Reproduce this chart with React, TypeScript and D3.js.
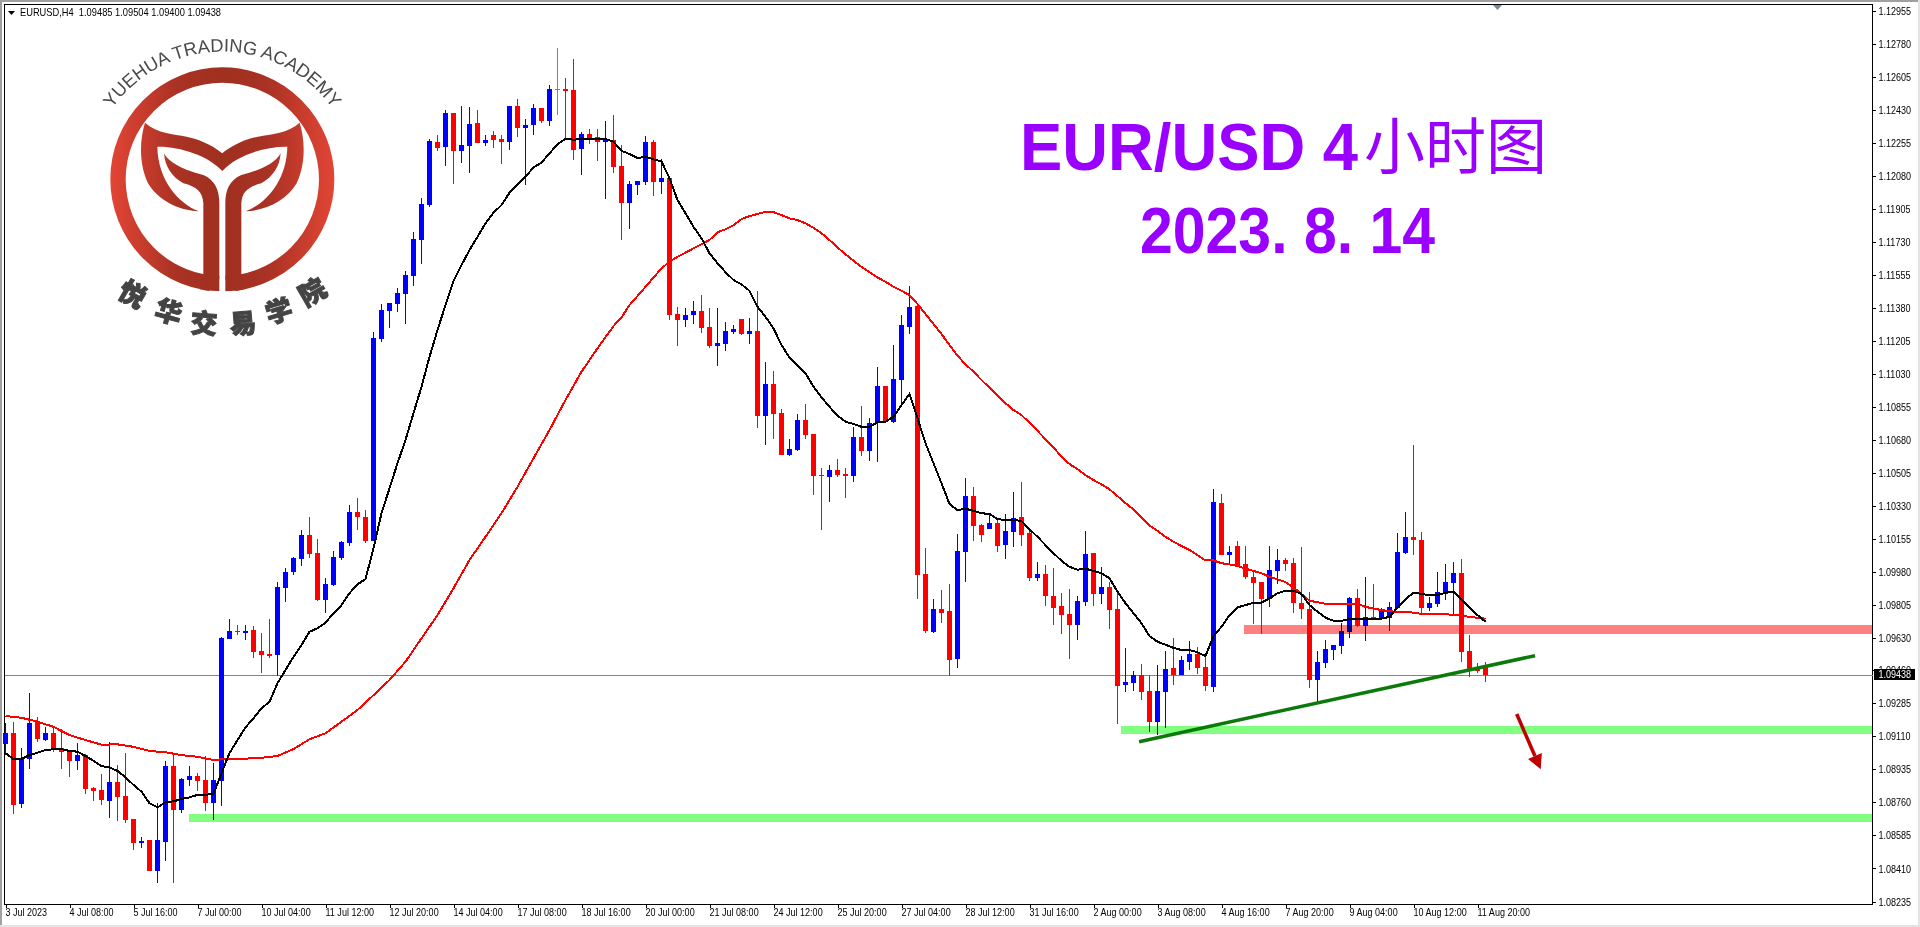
import React, { useEffect, useRef } from 'react';
import * as d3 from 'd3';

// OHLC, one value per bar
const opens = [
  1.0907, 1.09127, 1.08752, 1.0899, 1.09192, 1.09091, 1.09128, 1.09049, 1.09027, 1.0898, 1.09011, 1.08837, 1.08826, 1.08768, 1.08868, 1.08794,
  1.08672, 1.08545, 1.08561, 1.08397, 1.0855, 1.08953, 1.0872, 1.08879, 1.089, 1.08879, 1.08757, 1.08874, 1.09626, 1.09669, 1.09658, 1.09674,
  1.09563, 1.09547, 1.09541, 1.09897, 1.09981, 1.1005, 1.10177, 1.10082, 1.09833, 1.09913, 1.10056, 1.10135, 1.10299, 1.10273, 1.10146, 1.11216,
  1.11365, 1.11402, 1.11455, 1.1155, 1.11741, 1.11926, 1.1226, 1.12234, 1.12414, 1.12213, 1.12239, 1.12361, 1.12255, 1.12297, 1.12276, 1.1226,
  1.12451, 1.12335, 1.1235, 1.12441, 1.12372, 1.1254, 1.12541, 1.12536, 1.12223, 1.12303, 1.12287, 1.1226, 1.12271, 1.12133, 1.11937, 1.12032,
  1.12048, 1.1226, 1.12048, 1.1207, 1.11349, 1.11317, 1.11343, 1.11365, 1.1128, 1.11179, 1.1119, 1.11253, 1.11322, 1.11243, 1.11259, 1.10808,
  1.10978, 1.10824, 1.10601, 1.10628, 1.10787, 1.10713, 1.10494, 1.10485, 1.10522, 1.10501, 1.1049, 1.10697, 1.10623, 1.10771, 1.10967, 1.10776,
  1.10999, 1.1128, 1.11391, 1.09971, 1.09663, 1.09785, 1.09775, 1.0952, 1.10087, 1.10384, 1.1023, 1.10209, 1.10241, 1.10124, 1.10193, 1.10273,
  1.10188, 1.0995, 1.09971, 1.09854, 1.09801, 1.09759, 1.097, 1.09822, 1.10082, 1.09865, 1.09902, 1.09785, 1.09382, 1.09393, 1.09435, 1.09351,
  1.09186, 1.09345, 1.09473, 1.09435, 1.09504, 1.09547, 1.09478, 1.09372, 1.10347, 1.10071, 1.10119, 1.10024, 1.09955, 1.09928, 1.09838, 1.09987,
  1.10045, 1.10029, 1.09817, 1.09785, 1.09409, 1.09499, 1.09568, 1.09589, 1.09663, 1.09844, 1.09695, 1.09743, 1.09732, 1.09738, 1.09791, 1.10082,
  1.10167, 1.10151, 1.09791, 1.09812, 1.09865, 1.09923, 1.09976, 1.09563, 1.09467, 1.09485,
];
const highs = [
  1.09181, 1.09186, 1.09049, 1.0934, 1.09213, 1.0916, 1.09165, 1.09149, 1.09038, 1.09075, 1.09017, 1.08842, 1.08911, 1.0908, 1.08958, 1.09022,
  1.08672, 1.08577, 1.08561, 1.08757, 1.0898, 1.09011, 1.0889, 1.08953, 1.08916, 1.09006, 1.08969, 1.09637, 1.09732, 1.097, 1.097, 1.09695,
  1.09658, 1.09732, 1.09928, 1.10003, 1.10061, 1.10204, 1.10273, 1.10156, 1.0995, 1.10093, 1.10146, 1.10336, 1.10374, 1.1031, 1.11253, 1.11402,
  1.11407, 1.11487, 1.11577, 1.11783, 1.11964, 1.12276, 1.12297, 1.1243, 1.12414, 1.12451, 1.12446, 1.1243, 1.12297, 1.12319, 1.12297, 1.12451,
  1.12488, 1.12382, 1.12462, 1.12441, 1.12562, 1.12759, 1.126, 1.127, 1.12313, 1.12329, 1.12329, 1.12372, 1.12403, 1.12244, 1.12054, 1.12054,
  1.12292, 1.12271, 1.1217, 1.1207, 1.11386, 1.11381, 1.11418, 1.11449, 1.11381, 1.11381, 1.11306, 1.1129, 1.11322, 1.11328, 1.11471, 1.11094,
  1.11047, 1.10845, 1.10686, 1.10819, 1.10872, 1.10713, 1.10533, 1.10548, 1.1058, 1.10533, 1.1075, 1.10861, 1.10798, 1.11068, 1.10967, 1.11184,
  1.11343, 1.11497, 1.11391, 1.10109, 1.09838, 1.09886, 1.09918, 1.10183, 1.1048, 1.10432, 1.10236, 1.10283, 1.10262, 1.10289, 1.10405, 1.10458,
  1.10215, 1.10034, 1.10018, 1.10003, 1.0987, 1.09891, 1.09854, 1.10199, 1.10082, 1.10008, 1.09928, 1.09875, 1.09579, 1.09457, 1.09494, 1.09435,
  1.09488, 1.09563, 1.09632, 1.09536, 1.09616, 1.09584, 1.09536, 1.10421, 1.10395, 1.10119, 1.10146, 1.10119, 1.09981, 1.09928, 1.10119, 1.10103,
  1.10056, 1.10056, 1.10114, 1.09875, 1.09563, 1.09621, 1.09594, 1.09711, 1.09849, 1.09891, 1.09955, 1.09918, 1.09791, 1.09822, 1.10188, 1.10299,
  1.10654, 1.10193, 1.09849, 1.09981, 1.10024, 1.10034, 1.1005, 1.09647, 1.09499, 1.09504,
];
const lows = [
  1.09011, 1.08699, 1.08731, 1.08937, 1.0908, 1.09086, 1.09027, 1.08937, 1.08895, 1.08932, 1.08805, 1.08768, 1.08746, 1.08678, 1.08662, 1.08651,
  1.08508, 1.08519, 1.08397, 1.08333, 1.0845, 1.08333, 1.08704, 1.08847, 1.08821, 1.08715, 1.08667, 1.08741, 1.09626, 1.09647, 1.09621, 1.09526,
  1.09446, 1.09526, 1.0943, 1.09822, 1.09965, 1.10013, 1.10056, 1.09828, 1.09764, 1.09907, 1.10045, 1.10119, 1.10204, 1.10135, 1.10146, 1.112,
  1.11275, 1.11359, 1.11296, 1.11497, 1.11614, 1.11916, 1.12213, 1.12133, 1.12038, 1.12149, 1.12096, 1.12255, 1.12239, 1.12229, 1.12144, 1.12218,
  1.12287, 1.12032, 1.12297, 1.12361, 1.12345, 1.12403, 1.12271, 1.12165, 1.12085, 1.1225, 1.1216, 1.11958, 1.12096, 1.11741, 1.11799, 1.1198,
  1.12032, 1.11974, 1.11985, 1.11317, 1.11179, 1.1128, 1.11296, 1.11248, 1.11169, 1.11073, 1.11153, 1.11243, 1.11237, 1.1119, 1.10745, 1.10654,
  1.10686, 1.10601, 1.10596, 1.10623, 1.10686, 1.10389, 1.10204, 1.10352, 1.10485, 1.10374, 1.10458, 1.10596, 1.1057, 1.10564, 1.10782, 1.10771,
  1.10877, 1.11243, 1.09838, 1.09658, 1.09658, 1.09711, 1.0943, 1.09473, 1.09928, 1.10146, 1.1014, 1.10209, 1.10087, 1.1005, 1.10114, 1.10119,
  1.09934, 1.09934, 1.09801, 1.097, 1.09653, 1.0952, 1.09621, 1.09801, 1.09801, 1.09812, 1.09679, 1.09176, 1.09345, 1.09351, 1.09303, 1.09133,
  1.09117, 1.09155, 1.09382, 1.09435, 1.09462, 1.09441, 1.09351, 1.09345, 1.10071, 1.10029, 1.10008, 1.09944, 1.09706, 1.09653, 1.09796, 1.09918,
  1.09987, 1.09764, 1.09732, 1.09367, 1.09292, 1.09473, 1.09515, 1.09547, 1.09632, 1.0969, 1.09616, 1.09732, 1.09732, 1.09669, 1.09791, 1.10077,
  1.10071, 1.09759, 1.09775, 1.09796, 1.09833, 1.09759, 1.09504, 1.09425, 1.09446, 1.094,
];
const closes = [
  1.09128, 1.08748, 1.0899, 1.09181, 1.09096, 1.09128, 1.09043, 1.09027, 1.0898, 1.09011, 1.08831, 1.08821, 1.08773, 1.08868, 1.08789, 1.08667,
  1.08545, 1.08556, 1.08397, 1.08561, 1.08953, 1.0872, 1.08884, 1.089, 1.08874, 1.08757, 1.08879, 1.09632, 1.09669, 1.09663, 1.09669, 1.09557,
  1.09541, 1.09536, 1.09902, 1.09981, 1.10056, 1.10177, 1.10077, 1.09833, 1.09918, 1.10061, 1.1014, 1.10299, 1.10273, 1.10146, 1.11222, 1.1137,
  1.11407, 1.1146, 1.11555, 1.11746, 1.11932, 1.12266, 1.12229, 1.12414, 1.12213, 1.12244, 1.12356, 1.12255, 1.12271, 1.12271, 1.1226, 1.12451,
  1.12335, 1.1235, 1.12441, 1.12372, 1.12541, 1.1254, 1.12531, 1.12218, 1.12303, 1.12276, 1.1226, 1.12276, 1.12128, 1.11937, 1.12038, 1.12054,
  1.1226, 1.12048, 1.1207, 1.11343, 1.11317, 1.11343, 1.11365, 1.11275, 1.11179, 1.11195, 1.11259, 1.11269, 1.11243, 1.11259, 1.10808, 1.10978,
  1.10819, 1.10601, 1.10633, 1.10787, 1.10707, 1.1049, 1.1049, 1.10522, 1.10495, 1.1049, 1.10697, 1.10623, 1.10771, 1.10967, 1.10782, 1.11004,
  1.1129, 1.11386, 1.09965, 1.09669, 1.09785, 1.09764, 1.09515, 1.10093, 1.10384, 1.10225, 1.10177, 1.10241, 1.10119, 1.10199, 1.10268, 1.10177,
  1.0995, 1.09971, 1.09854, 1.09791, 1.09753, 1.097, 1.09828, 1.10077, 1.09865, 1.09902, 1.0978, 1.09377, 1.09398, 1.09435, 1.09345, 1.09186,
  1.09351, 1.09467, 1.09435, 1.09515, 1.09547, 1.09473, 1.09377, 1.10352, 1.10071, 1.10087, 1.10013, 1.09955, 1.09923, 1.09838, 1.09992, 1.10045,
  1.10024, 1.09817, 1.09785, 1.09409, 1.09504, 1.09573, 1.09594, 1.09669, 1.09844, 1.09695, 1.09743, 1.09732, 1.0978, 1.09796, 1.10087, 1.10167,
  1.10151, 1.09791, 1.09817, 1.09875, 1.09928, 1.09976, 1.09557, 1.09462, 1.09457, 1.09438,
];

// black moving average, every bar
const fastMa = [
  1.09022, 1.0899, 1.0899, 1.09011, 1.09024, 1.09038, 1.09042, 1.09042, 1.09033, 1.09029, 1.09006, 1.08981, 1.08953, 1.08946, 1.08927, 1.08893,
  1.08853, 1.08817, 1.08756, 1.08734, 1.08761, 1.08766, 1.08778, 1.08787, 1.088, 1.08801, 1.08805, 1.08915, 1.09021, 1.09091, 1.09158, 1.09206,
  1.09259, 1.09294, 1.09392, 1.09462, 1.09532, 1.09594, 1.09665, 1.09683, 1.09713, 1.09763, 1.09806, 1.09869, 1.09916, 1.09944, 1.10107, 1.10293,
  1.10425, 1.10558, 1.10681, 1.10823, 1.10963, 1.11122, 1.11264, 1.11396, 1.11524, 1.11608, 1.11688, 1.11758, 1.1183, 1.11886, 1.11926, 1.11992,
  1.12036, 1.12076, 1.12126, 1.12151, 1.12201, 1.12248, 1.12278, 1.12273, 1.12276, 1.12278, 1.12278, 1.12276, 1.12262, 1.12214, 1.12197, 1.12176,
  1.12182, 1.12169, 1.12158, 1.12068, 1.11953, 1.11883, 1.11811, 1.1175, 1.11671, 1.11618, 1.11571, 1.11529, 1.11506, 1.11472, 1.11387, 1.11334,
  1.11273, 1.11184, 1.11119, 1.11078, 1.11035, 1.10963, 1.10907, 1.10857, 1.1081, 1.10778, 1.10766, 1.10751, 1.10751, 1.10775, 1.10778, 1.10804,
  1.10866, 1.10925, 1.10796, 1.10664, 1.10558, 1.10452, 1.10342, 1.1031, 1.10317, 1.10306, 1.10293, 1.10289, 1.10262, 1.10257, 1.10257, 1.10252,
  1.10208, 1.10168, 1.10124, 1.10081, 1.10041, 1.10009, 1.09994, 1.09999, 1.09987, 1.09975, 1.09948, 1.09877, 1.09816, 1.09763, 1.0971, 1.09642,
  1.09612, 1.09596, 1.09579, 1.09568, 1.09568, 1.09556, 1.09536, 1.09642, 1.09691, 1.09753, 1.09794, 1.09806, 1.09819, 1.09819, 1.09842, 1.09869,
  1.09882, 1.09882, 1.09865, 1.09806, 1.09771, 1.09739, 1.09723, 1.09723, 1.09732, 1.09732, 1.09732, 1.09732, 1.09734, 1.09744, 1.09794, 1.09837,
  1.09872, 1.09865, 1.09859, 1.09859, 1.09872, 1.09877, 1.09838, 1.09794, 1.09753, 1.09718,
];

// red moving average, read at these bars
const slowMaBars = [
  0, 2, 4, 6, 8, 10, 12, 14, 16, 18, 20, 22, 24, 26, 28, 30, 32, 34, 36, 38, 40, 42, 44, 46, 48, 50, 52, 54, 56, 58, 60, 62, 64, 66, 68, 70, 72, 74, 76, 77, 78, 80, 82, 83, 84, 86, 88, 89,
  90, 91, 92, 93, 94, 95, 96, 97, 98, 99, 100, 101, 102, 103, 104, 105, 106, 107, 108, 109, 110, 111, 112, 113, 114, 115, 116, 117, 118, 119, 120, 121, 122, 123, 124, 125, 126, 127, 128, 129,
  130, 131, 132, 133, 134, 135, 136, 137, 138, 139, 140, 141, 142, 143, 144, 145, 146, 147, 148, 149, 150, 151, 152, 153, 154, 155, 156, 157, 158, 159, 160, 161, 162, 163, 164, 165, 166, 167,
  168, 169, 170, 171, 172, 173, 174, 175, 176, 177, 178, 179, 180, 181, 182, 183, 184, 185,
];
const slowMa = [
  1.09218, 1.09209, 1.09188, 1.09161, 1.09117, 1.09091, 1.09066, 1.09068, 1.09055, 1.09033, 1.09026, 1.09011, 1.09002, 1.08985, 1.08992, 1.08992, 1.08997, 1.09006, 1.09043, 1.09095, 1.09127, 1.09188, 1.0925, 1.09329,
  1.09409, 1.09506, 1.0963, 1.09753, 1.09895, 1.10045, 1.10168, 1.10293, 1.10433, 1.10584, 1.10734, 1.10893, 1.11043, 1.11167, 1.11285, 1.11331, 1.11396, 1.11493, 1.11591, 1.11626, 1.11652, 1.11697, 1.11741, 1.11782,
  1.11798, 1.1182, 1.11852, 1.11868, 1.11879, 1.11891, 1.11889, 1.11873, 1.11856, 1.11847, 1.1183, 1.11806, 1.11777, 1.11741, 1.11702, 1.11665, 1.11631, 1.11599, 1.1157, 1.11543, 1.1152, 1.11493, 1.11472, 1.11449,
  1.11402, 1.11349, 1.11296, 1.11243, 1.11184, 1.11128, 1.11082, 1.11043, 1.10999, 1.10958, 1.10916, 1.10876, 1.1084, 1.10813, 1.10773, 1.1073, 1.10685, 1.10642, 1.10592, 1.10554, 1.10526, 1.10495, 1.10469, 1.10446,
  1.1042, 1.10384, 1.10346, 1.10314, 1.10269, 1.10229, 1.10199, 1.10168, 1.10142, 1.10119, 1.10098, 1.10071, 1.10043, 1.10043, 1.10028, 1.10022, 1.10013, 1.09999, 1.09987, 1.09975, 1.09956, 1.09943, 1.09928, 1.099,
  1.09865, 1.09829, 1.09821, 1.09813, 1.09812, 1.09812, 1.09812, 1.09812, 1.09797, 1.09787, 1.0978, 1.09773, 1.09771, 1.09771, 1.09766, 1.09759, 1.09757, 1.09757, 1.09757, 1.09755, 1.09752, 1.09743, 1.09739, 1.09734,
];

const priceTicks = [
  1.12955, 1.1278, 1.12605, 1.1243, 1.12255, 1.1208, 1.11905, 1.1173, 1.11555, 1.1138, 1.11205, 1.1103, 1.10855, 1.1068,
  1.10505, 1.1033, 1.10155, 1.0998, 1.09805, 1.0963, 1.0946, 1.09285, 1.0911, 1.08935, 1.0876, 1.08585, 1.0841, 1.08235,
];
const timeTickBars = [0, 8, 16, 24, 32, 40, 48, 56, 64, 72, 80, 88, 96, 104, 112, 120, 128, 136, 144, 152, 160, 168, 176, 184];
const timeLabels = [
  '3 Jul 2023', '4 Jul 08:00', '5 Jul 16:00', '7 Jul 00:00', '10 Jul 04:00', '11 Jul 12:00', '12 Jul 20:00', '14 Jul 04:00',
  '17 Jul 08:00', '18 Jul 16:00', '20 Jul 00:00', '21 Jul 08:00', '24 Jul 12:00', '25 Jul 20:00', '27 Jul 04:00', '28 Jul 12:00',
  '31 Jul 16:00', '2 Aug 00:00', '3 Aug 08:00', '4 Aug 16:00', '7 Aug 20:00', '9 Aug 04:00', '10 Aug 12:00', '11 Aug 20:00',
];

// zones drawn on the chart: [from bar, upper price, lower price, colour]
const zones: [number, number, number, string][] = [
  [154.8, 1.097, 1.09654, '#ff8080'],
  [139.4, 1.09165, 1.09123, '#80ff80'],
  [22.9, 1.08699, 1.08656, '#80ff80'],
];
const trendBars = [141.7, 191.2];
const trendPrices = [1.09082, 1.09538];
const arrowBars = [188.9, 191.9];
const arrowPrices = [1.09229, 1.08936];
const lastPrice = 1.09438;

const logoCnLeft = ['悦', '华', '交', '易', '学', '院'];
const logoCnPos = [
  [400, 878, 30],
  [507, 930, 15],
  [612, 965, 4],
  [728, 965, -5],
  [835, 928, -17],
  [935, 872, -30],
];

const W = 1920;
const H = 927;
const plotLeft = 4.5;
const plotRight = 1872.5;
const plotTop = 4.5;
const plotBottom = 904.5;
const chartFont = '"Liberation Sans", sans-serif';
// the platform's font is narrower than anything installed
const narrow = 0.82;

const Logo = () => {
  // drawn in the coordinates of a 3x crop, hence the scale
  const stem = 'M492,460 C510,495 570,515 610,525 C645,540 658,570 658,610 L658,835 Q655,865 625,873 L600,868 L610,822 L610,610 C608,575 590,560 550,550 C515,530 495,500 492,460 Z';
  const tail = 'M435,368 C470,400 520,402 560,410 C610,420 650,445 667,460 C684,445 724,420 774,410 C814,402 864,400 899,368 C915,420 918,490 890,550 C860,600 800,632 737,634 C800,610 860,540 862,440 C800,438 710,465 667,513 C624,465 534,438 472,440 C474,540 534,610 597,634 C534,632 474,600 444,550 C416,490 419,420 435,368 Z';
  return (
    <g transform="scale(0.33333)">
      <defs>
        <linearGradient id="logoFill" gradientUnits="userSpaceOnUse" x1="330" y1="0" x2="1003" y2="0">
          <stop offset="0" stopColor="#e24535" />
          <stop offset="0.3" stopColor="#a93224" />
          <stop offset="0.5" stopColor="#9f3020" />
          <stop offset="0.7" stopColor="#a93224" />
          <stop offset="1" stopColor="#e24535" />
        </linearGradient>
        <path id="logoArc" d="M325,343 A405,405 0 0 1 1009,343" fill="none" />
      </defs>
      <circle cx={667} cy={538} r={313} fill="none" stroke="url(#logoFill)" strokeWidth={46} />
      <rect x={658} y={820} width={18} height={70} fill="#fff" />
      <path d={tail} fill="url(#logoFill)" />
      <path d={stem} fill="url(#logoFill)" />
      <path d={stem} fill="url(#logoFill)" transform="translate(1334,0) scale(-1,1)" />
      <text fontFamily={chartFont} fontSize={55} fill="#4a4a4a">
        <textPath href="#logoArc" startOffset="50%" textAnchor="middle">YUEHUA TRADING ACADEMY</textPath>
      </text>
      {logoCnLeft.map((c, i) => (
        <text
          key={c}
          transform={`translate(${logoCnPos[i][0]},${logoCnPos[i][1]}) rotate(${logoCnPos[i][2]})`}
          fontFamily='"Noto Sans CJK SC", sans-serif'
          fontWeight={900}
          fontSize={80}
          fill="#444"
          stroke="#444"
          strokeWidth={3}
          textAnchor="middle"
          dominantBaseline="central"
        >
          {c}
        </text>
      ))}
    </g>
  );
};

const App = () => {
  const chartRef = useRef<SVGGElement>(null);

  useEffect(() => {
    const x = d3.scaleLinear().domain([0, 185]).range([5.5, 1485.5]);
    const y = d3.scaleLinear().domain([1.08235, 1.12955]).range([901.5, 11]);
    const color = (i: number) => (closes[i] > opens[i] ? '#0000ff' : closes[i] < opens[i] ? '#ff0000' : '#00e000');

    const g = d3.select(chartRef.current);
    g.selectAll('*').remove();

    // price line goes behind the bars
    g.append('line')
      .attr('x1', plotLeft).attr('x2', plotRight)
      .attr('y1', Math.round(y(lastPrice)) + 0.5).attr('y2', Math.round(y(lastPrice)) + 0.5)
      .attr('stroke', '#778899')
      .attr('shape-rendering', 'crispEdges');

    const bars = g.append('g').attr('shape-rendering', 'crispEdges');
    bars.selectAll('line')
      .data(opens.map((_, i) => i))
      .join('line')
      .attr('x1', i => x(i)).attr('x2', i => x(i))
      .attr('y1', i => Math.round(y(highs[i]))).attr('y2', i => Math.round(y(lows[i])))
      .attr('stroke', i => color(i));
    bars.selectAll('rect')
      .data(opens.map((_, i) => i))
      .join('rect')
      .attr('x', i => x(i) - 2.5)
      .attr('width', 5)
      .attr('y', i => Math.round(y(Math.max(opens[i], closes[i]))))
      .attr('height', i => Math.max(1, Math.round(y(Math.min(opens[i], closes[i]))) - Math.round(y(Math.max(opens[i], closes[i])))))
      .attr('fill', i => color(i));

    // multiply gives the dark bars seen through the zones
    g.selectAll('rect.zone')
      .data(zones)
      .join('rect')
      .attr('class', 'zone')
      .attr('x', d => x(d[0]))
      .attr('width', d => plotRight - x(d[0]))
      .attr('y', d => y(d[1]))
      .attr('height', d => y(d[2]) - y(d[1]))
      .attr('fill', d => d[3])
      .style('mix-blend-mode', 'multiply')
      .attr('shape-rendering', 'crispEdges');

    const slowLine = d3.line<number>().x(d => x(slowMaBars[d])).y(d => y(slowMa[d]));
    g.append('path')
      .attr('d', slowLine(slowMa.map((_, i) => i)))
      .attr('fill', 'none').attr('stroke', '#ff0000').attr('stroke-width', 2)
      .attr('shape-rendering', 'crispEdges');
    const fastLine = d3.line<number>().x(d => x(d)).y(d => y(fastMa[d]));
    g.append('path')
      .attr('d', fastLine(fastMa.map((_, i) => i)))
      .attr('fill', 'none').attr('stroke', '#000').attr('stroke-width', 2)
      .attr('shape-rendering', 'crispEdges');

    g.append('line')
      .attr('x1', x(trendBars[0])).attr('y1', y(trendPrices[0]))
      .attr('x2', x(trendBars[1])).attr('y2', y(trendPrices[1]))
      .attr('stroke', '#0b7a0b').attr('stroke-width', 3.5);

    // red arrow, head built back from the tip
    const ax0 = x(arrowBars[0]);
    const ay0 = y(arrowPrices[0]);
    const ax1 = x(arrowBars[1]);
    const ay1 = y(arrowPrices[1]);
    const len = Math.hypot(ax1 - ax0, ay1 - ay0);
    const ux = (ax1 - ax0) / len;
    const uy = (ay1 - ay0) / len;
    const bx = ax1 - ux * 14.5;
    const by = ay1 - uy * 14.5;
    g.append('line')
      .attr('x1', ax0).attr('y1', ay0).attr('x2', bx).attr('y2', by)
      .attr('stroke', '#c00000').attr('stroke-width', 3.5);
    g.append('polygon')
      .attr('points', [[ax1, ay1], [bx - uy * 7.5, by + ux * 7.5], [bx + uy * 7.5, by - ux * 7.5]].join(' '))
      .attr('fill', '#c00000');

    // axes
    const yAxis = d3.axisRight(y)
      .tickValues(priceTicks)
      .tickFormat(d3.format('.5f') as any)
      .tickSize(3)
      .tickPadding(3);
    const yG = g.append('g').attr('transform', `translate(${plotRight},0)`).call(yAxis);
    const xAxis = d3.axisBottom(x)
      .tickValues(timeTickBars)
      .tickFormat((_, i) => timeLabels[i])
      .tickSize(3)
      .tickPadding(1);
    const xG = g.append('g').attr('transform', `translate(0,${plotBottom})`).call(xAxis);
    for (const a of [yG, xG]) {
      a.select('.domain').remove();
      a.attr('font-family', chartFont).attr('font-size', 11);
      a.selectAll('line').attr('stroke', '#000').attr('shape-rendering', 'crispEdges');
      a.selectAll('text').attr('fill', '#000');
    }
    xG.selectAll('text').attr('text-anchor', 'start').attr('x', -0.5);
    g.selectAll<SVGTextElement, unknown>('g.tick text').each(function () {
      this.setAttribute('textLength', String(this.getComputedTextLength() * narrow));
      this.setAttribute('lengthAdjust', 'spacingAndGlyphs');
    });

    // current price tag
    g.append('rect')
      .attr('x', 1874).attr('y', y(lastPrice) - 5.5)
      .attr('width', 41).attr('height', 11)
      .attr('fill', '#000')
      .attr('shape-rendering', 'crispEdges');
    g.append('text')
      .attr('x', plotRight + 6).attr('y', y(lastPrice))
      .attr('dy', '0.35em')
      .attr('font-family', chartFont).attr('font-size', 11)
      .attr('textLength', 32.5).attr('lengthAdjust', 'spacingAndGlyphs')
      .attr('fill', '#fff')
      .text(d3.format('.5f')(lastPrice));
  }, []);

  return (
    <svg width={W} height={H} style={{ position: 'absolute', left: 0, top: 0, display: 'block' }}>
      <rect width={W} height={H} fill="#fff" />
      <rect width={W} height={2} fill="#a0a0a0" />
      <rect width={2} height={H} fill="#a0a0a0" />
      <rect y={H - 2} width={W} height={2} fill="#e4e4e4" />
      <rect x={W - 2} width={2} height={H} fill="#e4e4e4" />
      <rect
        x={plotLeft} y={plotTop} width={plotRight - plotLeft} height={plotBottom - plotTop}
        fill="none" stroke="#000" shapeRendering="crispEdges"
      />
      <Logo />
      <g ref={chartRef} />
      <polygon points="1493,5 1502,5 1497.5,10" fill="#778899" />
      <polygon points="8,11 15,11 11.5,15" fill="#000" />
      <text x={20} y={16} fontFamily={chartFont} fontSize={11} fill="#000" xmlSpace="preserve" textLength={201} lengthAdjust="spacingAndGlyphs">
        EURUSD,H4  1.09485 1.09504 1.09400 1.09438
      </text>
      <text x={1020} y={170} fontFamily={chartFont} fontWeight={700} fontSize={67} fill="#9900ff" textLength={338} lengthAdjust="spacingAndGlyphs">
        EUR/USD 4
      </text>
      <text x={1364} y={169} fontFamily='"Noto Sans CJK SC", sans-serif' fontSize={61} fill="#9900ff">
        小时图
      </text>
      <text x={1140} y={253} fontFamily={chartFont} fontWeight={700} fontSize={64} fill="#9900ff" xmlSpace="preserve" textLength={295} lengthAdjust="spacingAndGlyphs">
        2023. 8. 14
      </text>
    </svg>
  );
};

export default App;
